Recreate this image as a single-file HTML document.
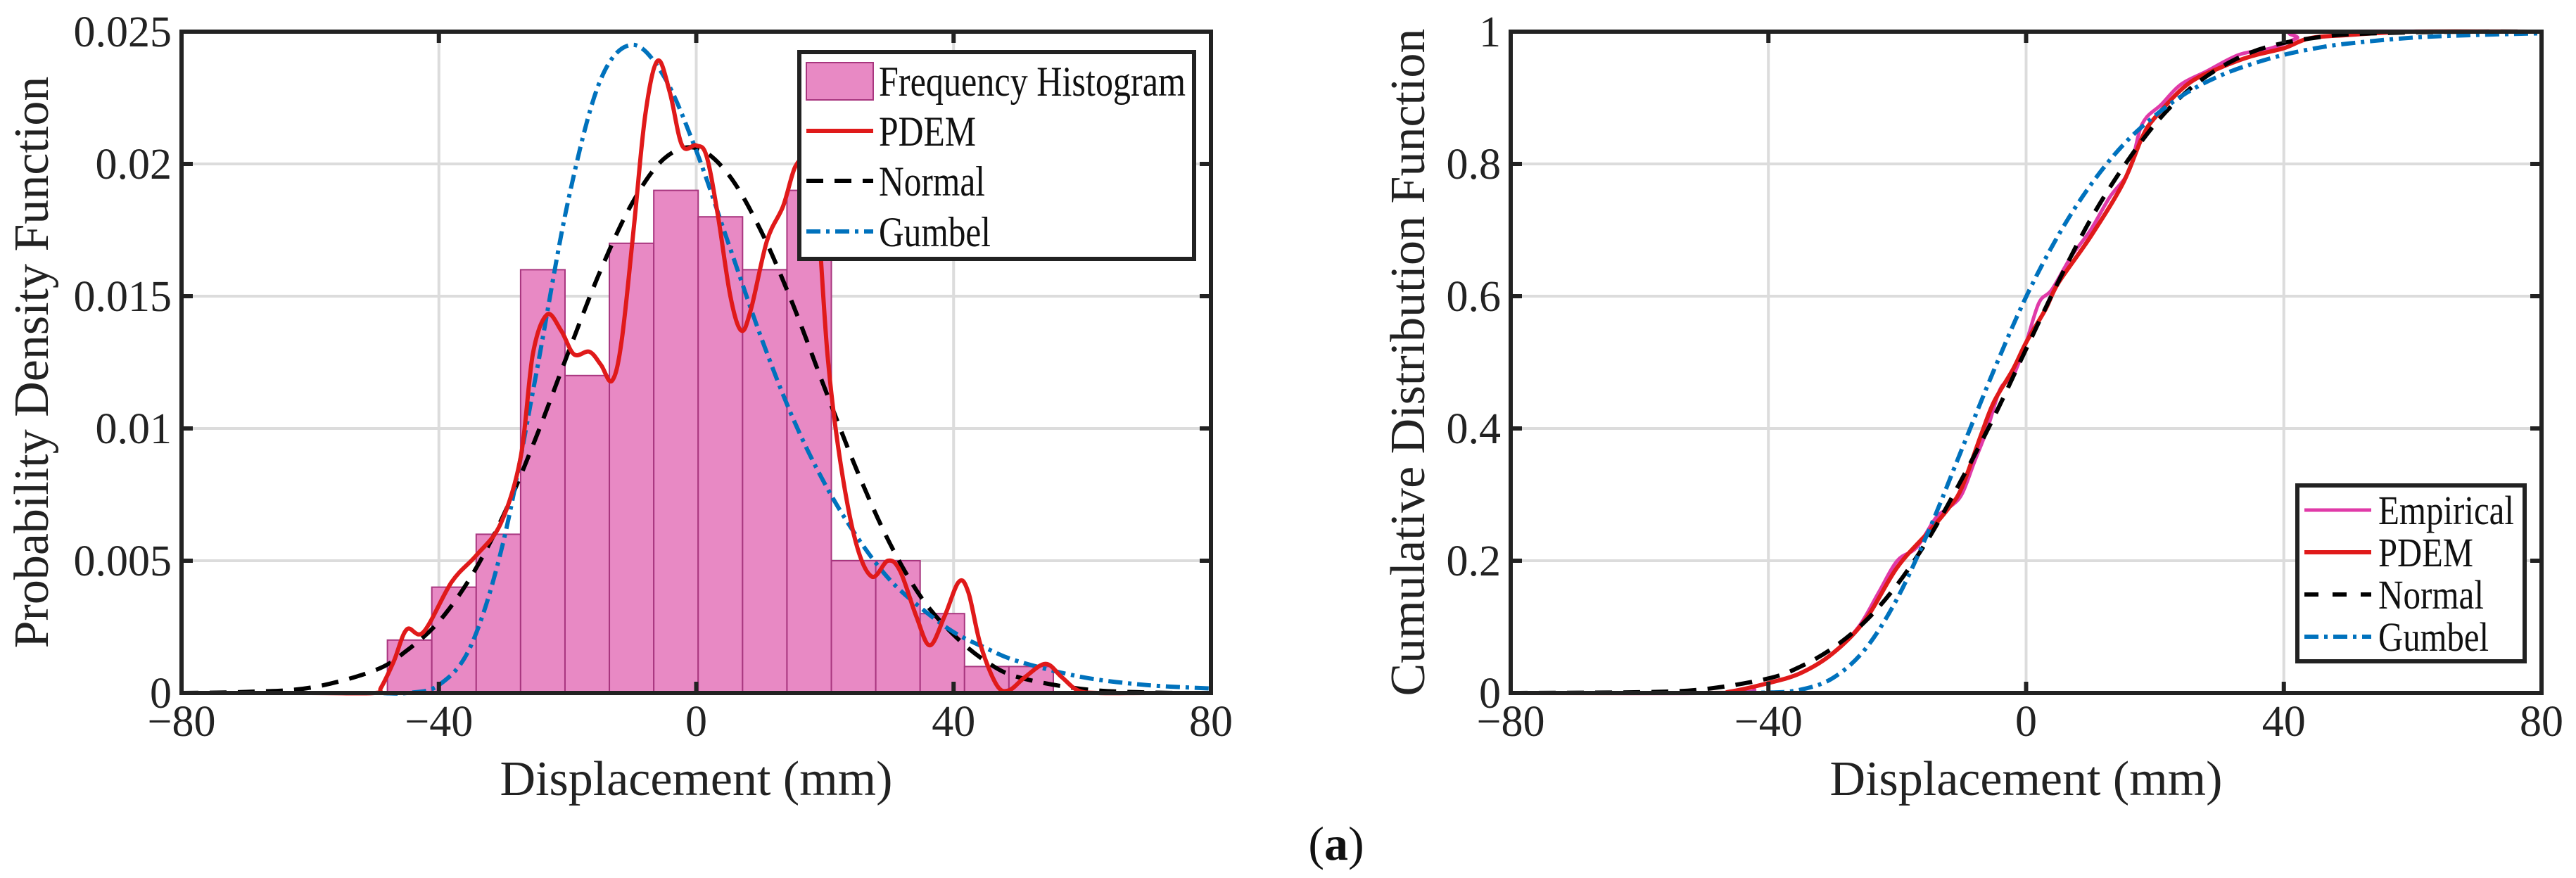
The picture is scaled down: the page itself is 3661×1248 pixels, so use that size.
<!DOCTYPE html>
<html><head><meta charset="utf-8">
<style>
html,body{margin:0;padding:0;background:#fff;}
svg{display:block;font-family:"Liberation Serif",serif;}
</style></head>
<body>
<svg id="fig" width="3661" height="1248" viewBox="0 0 3661 1248" xmlns="http://www.w3.org/2000/svg"></svg>
<script>
// ---- PDF panel data ----
const binEdges = [-48,-41.1,-34.2,-27.3,-20.4,-13.5,-6.6,0.3,7.2,14.1,21,27.9,34.8,41.7,48.6,55.5];
const binHeights = [0.002,0.004,0.006,0.016,0.012,0.017,0.019,0.018,0.016,0.019,0.005,0.005,0.003,0.001,0.001];
const pdemX = [-80,-60,-50,-49,-47,-45,-42.4,-38,-34.2,-30.4,-27.3,-25.4,-23.2,-21,-19,-16.6,-14.8,-13.1,-11.6,-9.7,-7.9,-6,-4.1,-2.2,0,1.6,3.4,5.3,7,8.5,11,13.5,15.4,17.2,18.7,20.4,22.3,24.8,27.3,29.8,31.7,34.2,36.3,38.6,40.8,42.3,44.2,46.7,48.6,51.1,54.3,56.8,59.3,62.4,70,80];
const pdemY = [0,0,0,0.0002,0.0012,0.0024,0.0023,0.0042,0.0052,0.0064,0.0089,0.0128,0.0143,0.0137,0.0128,0.0129,0.0124,0.0118,0.0133,0.0176,0.0219,0.0239,0.0227,0.0207,0.0207,0.0203,0.018,0.015,0.0137,0.0145,0.0171,0.0184,0.0199,0.0201,0.0186,0.0128,0.0089,0.0057,0.0044,0.005,0.0046,0.0029,0.0018,0.0029,0.0042,0.0038,0.0018,0.0003,0.0001,0.0006,0.0011,0.0006,0.0001,0,0,0];
const pdfX = [-80,-70,-60,-50,-45,-40,-35,-30,-25,-20,-15,-10,-5,0,5,10,15,20,25,30,35,40,45,50,60,70,80];
const normalPdf = [0,0.00004,0.0002,0.00085,0.0016,0.0027,0.0044,0.0067,0.0096,0.0128,0.0159,0.0185,0.0202,0.0206,0.0196,0.0175,0.0147,0.0115,0.0084,0.0057,0.0036,0.0022,0.0012,0.0006,0.00015,0.00002,0];
const gumbelPdf = [0,0,0,0,0,0.0003,0.0018,0.0057,0.0119,0.0185,0.0231,0.0245,0.0233,0.0205,0.017,0.0135,0.0104,0.0079,0.0059,0.0043,0.0032,0.0023,0.0017,0.0012,0.0006,0.0003,0.00017];
const pdfYTicks = [0,0.005,0.01,0.015,0.02,0.025];
const pdfYTickLabels = ["0","0.005","0.01","0.015","0.02","0.025"];
// ---- CDF panel data ----
const cdfX = [-80,-60,-50,-40,-35,-30,-25,-20,-15,-10,-5,0,5,10,15,20,25,30,35,40,45,50,60,70,80];
const normalCdf = [0,0.0012,0.0057,0.022,0.04,0.068,0.108,0.164,0.236,0.323,0.417,0.52,0.622,0.716,0.794,0.86,0.91,0.945,0.969,0.983,0.991,0.996,0.999,1,1];
const gumbelCdf = [0,0,0,0.0006,0.005,0.0226,0.066,0.143,0.248,0.368,0.488,0.599,0.692,0.768,0.828,0.873,0.908,0.933,0.951,0.965,0.975,0.982,0.991,0.995,0.9975];
const pdemCdfX = [-80,-50,-46,-40,-35,-30,-25,-20,-15,-12,-10,-7,-5,-2,0,3,5,10,15,18,20,25,30,35,40,44,50,60,80];
const pdemCdf = [0,0,0.002,0.015,0.03,0.06,0.11,0.19,0.245,0.28,0.31,0.39,0.44,0.49,0.53,0.58,0.62,0.69,0.77,0.84,0.87,0.92,0.945,0.963,0.975,0.99,0.995,1,1];
const empCdfX = [-80,-46,-42,-38,-34,-30,-26,-23,-20,-17,-14,-12,-10,-8,-6,-4,-2,0,2,4,7,10,13,16,18,21,24,28,33,38,42,44,80];
const empCdf = [0,0,0.01,0.02,0.035,0.06,0.1,0.15,0.2,0.22,0.265,0.28,0.3,0.35,0.4,0.46,0.48,0.53,0.59,0.61,0.66,0.7,0.75,0.79,0.86,0.89,0.92,0.94,0.965,0.975,0.99,1,1];
const xTicks = [-80,-40,0,40,80];
const xTickLabels = ["\u221280","\u221240","0","40","80"];
const cdfYTicks = [0,0.2,0.4,0.6,0.8,1];
const cdfYTickLabels = ["0","0.2","0.4","0.6","0.8","1"];

const NS = "http://www.w3.org/2000/svg";
const svg = document.getElementById('fig');
function mk(tag, attrs, parent){
  const e = document.createElementNS(NS, tag);
  for (const k in attrs) e.setAttribute(k, attrs[k]);
  (parent||svg).appendChild(e);
  return e;
}
function axes(L,R,T,B,xmin,xmax,ymin,ymax){
  return {
    x: v => L + (v - xmin)/(xmax - xmin)*(R - L),
    y: v => B - (v - ymin)/(ymax - ymin)*(B - T),
    L, R, T, B
  };
}
function pathFrom(ax, xs, ys){
  const P = xs.map((v,i)=>[ax.x(v), ax.y(ys[i])]);
  let d = 'M' + P[0][0].toFixed(1) + ' ' + P[0][1].toFixed(1);
  for (let i=0;i<P.length-1;i++){
    const p0 = P[Math.max(0,i-1)], p1 = P[i], p2 = P[i+1], p3 = P[Math.min(P.length-1,i+2)];
    const c1x = p1[0] + (p2[0]-p0[0])/6, c1y = p1[1] + (p2[1]-p0[1])/6;
    const c2x = p2[0] - (p3[0]-p1[0])/6, c2y = p2[1] - (p3[1]-p1[1])/6;
    d += ' C' + c1x.toFixed(1)+' '+c1y.toFixed(1)+' '+c2x.toFixed(1)+' '+c2y.toFixed(1)+' '+p2[0].toFixed(1)+' '+p2[1].toFixed(1);
  }
  return d;
}
function frame(ax, g, yTicks){
  xTicks.forEach(t=>{
    const gl = mk('line',{x1:ax.x(t),x2:ax.x(t),y1:ax.T,y2:ax.B,stroke:'#dcdcdc','stroke-width':4},g);
    
    
  });
  yTicks.forEach(t=>{
    const gl = mk('line',{x1:ax.L,x2:ax.R,y1:ax.y(t),y2:ax.y(t),stroke:'#dcdcdc','stroke-width':4},g);
    
    
  });
}
function frameTop(ax, g, yTicks, yLabels, yTitle, yTitleX){
  const box = mk('rect',{x:ax.L,y:ax.T,width:ax.R-ax.L,height:ax.B-ax.T,fill:'none',stroke:'#222','stroke-width':6},g);
  
  
  xTicks.forEach((t,i)=>{
    const X = ax.x(t);
    mk('line',{x1:X,x2:X,y1:ax.B,y2:ax.B-16,stroke:'#222','stroke-width':6},g);
    mk('line',{x1:X,x2:X,y1:ax.T,y2:ax.T+16,stroke:'#222','stroke-width':6},g);
    const tx = mk('text',{x:X,y:1046,'font-size':62,'text-anchor':'middle',fill:'#222'},g);
    tx.textContent = xTickLabels[i];
    
    
  });
  yTicks.forEach((t,i)=>{
    const Y = ax.y(t);
    mk('line',{x1:ax.L,x2:ax.L+16,y1:Y,y2:Y,stroke:'#222','stroke-width':6},g);
    mk('line',{x1:ax.R,x2:ax.R-16,y1:Y,y2:Y,stroke:'#222','stroke-width':6},g);
    const ty = mk('text',{x:ax.L-14,y:Y+21,'font-size':62,'text-anchor':'end',fill:'#222'},g);
    ty.textContent = yLabels[i];
    
    
  });
  const xt = mk('text',{x:(ax.L+ax.R)/2,y:1130,'font-size':70,'text-anchor':'middle',fill:'#222'},g);
  xt.textContent = 'Displacement (mm)';
  
  
  const yt = mk('text',{x:yTitleX,y:(ax.T+ax.B)/2,'font-size':70,'text-anchor':'middle',fill:'#222',transform:`rotate(-90 ${yTitleX} ${(ax.T+ax.B)/2})`},g);
  yt.textContent = yTitle;
  
  
}

// ===== Left PDF panel =====
const A = axes(258,1721,45,985,-80,80,0,0.025);
const g1 = mk('g',{});


frame(A,g1,pdfYTicks);
binHeights.forEach((h,i)=>{
  const x0 = A.x(binEdges[i]), x1 = A.x(binEdges[i+1]);
  const r = mk('rect',{x:x0,y:A.y(h),width:x1-x0,height:A.y(0)-A.y(h),fill:'#e889c4',stroke:'#a8367f','stroke-width':2},g1);
  
  
});
let p = mk('path',{d:pathFrom(A,pdfX,normalPdf),fill:'none',stroke:'#000','stroke-width':6,'stroke-dasharray':'24 16'},g1);


p = mk('path',{d:pathFrom(A,pdfX,gumbelPdf),fill:'none',stroke:'#0072bd','stroke-width':6,'stroke-dasharray':'20 8 5 8'},g1);


p = mk('path',{d:pathFrom(A,pdemX,pdemY),fill:'none',stroke:'#e01a1a','stroke-width':6,'stroke-linejoin':'round'},g1);


frameTop(A,g1,pdfYTicks,pdfYTickLabels,'Probability Density Function',68);

// legend left
const lg1 = mk('g',{});


mk('rect',{x:1136,y:74,width:561,height:294,fill:'#fff',stroke:'#222','stroke-width':6},lg1);
mk('rect',{x:1146,y:89,width:95,height:53,fill:'#e889c4',stroke:'#a8367f','stroke-width':2},lg1);
mk('line',{x1:1146,x2:1241,y1:186,y2:186,stroke:'#e01a1a','stroke-width':6},lg1);
mk('line',{x1:1146,x2:1241,y1:257,y2:257,stroke:'#000','stroke-width':6,'stroke-dasharray':'24 16'},lg1);
mk('line',{x1:1146,x2:1241,y1:329,y2:329,stroke:'#0072bd','stroke-width':6,'stroke-dasharray':'20 8 5 8'},lg1);
[['Frequency Histogram',136,436],['PDEM',207,138],['Normal',278,151],['Gumbel',350,159]].forEach(([t,y,w])=>{
  const e = mk('text',{x:1249,y:y,'font-size':60,fill:'#111',textLength:w,lengthAdjust:'spacingAndGlyphs'},lg1);
  e.textContent = t;
  
  
});

// ===== Right CDF panel =====
const B = axes(2147,3612,45,985,-80,80,0,1);
const g2 = mk('g',{});


frame(B,g2,cdfYTicks);
p = mk('path',{d:pathFrom(B,empCdfX,empCdf),fill:'none',stroke:'#e03aa8','stroke-width':5,'stroke-linejoin':'round'},g2);


p = mk('path',{d:pathFrom(B,pdemCdfX,pdemCdf),fill:'none',stroke:'#e01a1a','stroke-width':6,'stroke-linejoin':'round'},g2);


p = mk('path',{d:pathFrom(B,cdfX,normalCdf),fill:'none',stroke:'#000','stroke-width':6,'stroke-dasharray':'24 16'},g2);


p = mk('path',{d:pathFrom(B,cdfX,gumbelCdf),fill:'none',stroke:'#0072bd','stroke-width':6,'stroke-dasharray':'20 8 5 8'},g2);


frameTop(B,g2,cdfYTicks,cdfYTickLabels,'Cumulative Distribution Function',2024);

const lg2 = mk('g',{});


mk('rect',{x:3265,y:690,width:323,height:250,fill:'#fff',stroke:'#222','stroke-width':6},lg2);
mk('line',{x1:3275,x2:3370,y1:725,y2:725,stroke:'#e03aa8','stroke-width':5},lg2);
mk('line',{x1:3275,x2:3370,y1:785,y2:785,stroke:'#e01a1a','stroke-width':6},lg2);
mk('line',{x1:3275,x2:3370,y1:845,y2:845,stroke:'#000','stroke-width':6,'stroke-dasharray':'20 20'},lg2);
mk('line',{x1:3275,x2:3370,y1:905,y2:905,stroke:'#0072bd','stroke-width':6,'stroke-dasharray':'20 8 5 8'},lg2);
[['Empirical',745,193],['PDEM',805,135],['Normal',865,150],['Gumbel',925,157]].forEach(([t,y,w])=>{
  const e = mk('text',{x:3380,y:y,'font-size':58,fill:'#111',textLength:w,lengthAdjust:'spacingAndGlyphs'},lg2);
  e.textContent = t;
  
  
});

// caption
const cap = mk('text',{x:1899,y:1222,'font-size':68,'text-anchor':'middle',fill:'#111'});
cap.innerHTML = '(<tspan font-weight="bold">a</tspan>)';


</script>
</body></html>
